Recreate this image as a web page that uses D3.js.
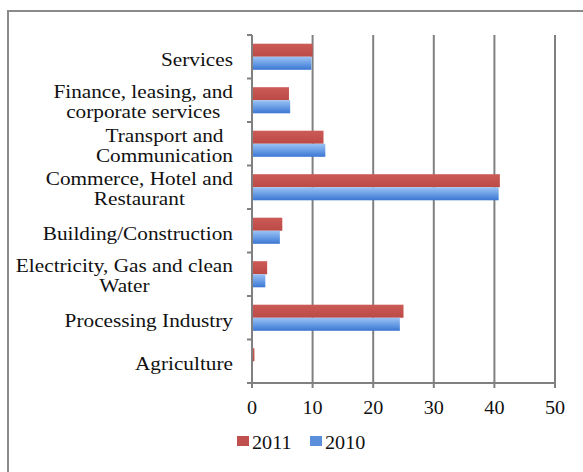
<!DOCTYPE html>
<html>
<head>
<meta charset="utf-8">
<script src="https://cdn.jsdelivr.net/npm/d3@7"></script>
<style>
  body { margin: 0; background: white; }
</style>
</head>
<body>
<svg id="chart" width="583" height="472"></svg>
<script>
// data
var categories = ['Services', 'Finance, leasing, and corporate services', 'Transport and Communication',
  'Commerce, Hotel and Restaurant', 'Building/Construction', 'Electricity, Gas and clean Water',
  'Processing Industry', 'Agriculture'];
var labelLines = [['Services'], ['Finance, leasing, and', 'corporate services'], ['Transport and', 'Communication'],
  ['Commerce, Hotel and', 'Restaurant'], ['Building/Construction'], ['Electricity, Gas and clean', 'Water'],
  ['Processing Industry'], ['Agriculture']];
var series = ['2011', '2010'];
var values2011 = [10.0, 6.1, 11.8, 40.9, 5.0, 2.5, 25.0, 0.4];
var values2010 = [9.8, 6.3, 12.1, 40.7, 4.6, 2.2, 24.4, 0.1];
var xTicks = [0, 10, 20, 30, 40, 50];

var svg = d3.select('#chart');
var plotLeft = 252, plotRight = 555, plotTop = 35, plotBottom = 383;
var gridColor = '#808080';
var font = '"Liberation Serif", "Times New Roman", serif';
var stretch = 'scale(1.12,1)';   // the picture's text is a bit wide

/* gradients */
var defs = svg.append('defs');
var gBlue = defs.append('linearGradient').attr('id', 'blueGrad').attr('x1', 0).attr('x2', 0).attr('y1', 0).attr('y2', 1);
gBlue.append('stop').attr('offset', '0%').attr('stop-color', '#9cc2f3');
gBlue.append('stop').attr('offset', '45%').attr('stop-color', '#6fa2e8');
gBlue.append('stop').attr('offset', '100%').attr('stop-color', '#3b76d2');
var gRed = defs.append('linearGradient').attr('id', 'redGrad').attr('x1', 0).attr('x2', 0).attr('y1', 0).attr('y2', 1);
gRed.append('stop').attr('offset', '0%').attr('stop-color', '#cc5b58');
gRed.append('stop').attr('offset', '100%').attr('stop-color', '#bb4a47');
var fills = { '2011': 'url(#redGrad)', '2010': 'url(#blueGrad)' };
var legendFills = { '2011': '#c0504d', '2010': '#5b8fdc' };

/* outer frame */
svg.append('rect').attr('x', 8).attr('y', 11).attr('width', 600).attr('height', 500)
  .style('fill', 'none').style('stroke', '#8a8a8a').style('stroke-width', 2);

/* scales */
var x = d3.scaleLinear().domain([0, 50]).range([plotLeft, plotRight]);
var y = d3.scaleBand().domain(categories).range([plotTop, plotBottom]).paddingInner(0.4).paddingOuter(0.2);
var ySub = d3.scaleBand().domain(series).range([0, y.bandwidth()]);
var yEdge = d3.scaleLinear().domain([0, categories.length]).range([plotTop, plotBottom]);

/* vertical gridlines */
svg.append('g').selectAll('line').data(xTicks.slice(1)).enter().append('line')
  .attr('x1', d => x(d)).attr('x2', d => x(d)).attr('y1', plotTop).attr('y2', plotBottom)
  .style('stroke', gridColor).style('stroke-width', 2);

/* bars */
var rows = categories.map((c, i) => ({ cat: c, vals: [{ s: '2011', v: values2011[i] }, { s: '2010', v: values2010[i] }] }));
var groups = svg.append('g').selectAll('g').data(rows).enter().append('g')
  .attr('transform', d => 'translate(0,' + y(d.cat) + ')');
groups.selectAll('rect').data(d => d.vals).enter().append('rect')
  .attr('x', x(0)).attr('y', d => ySub(d.s)).attr('width', d => x(d.v) - x(0)).attr('height', ySub.bandwidth())
  .style('fill', d => fills[d.s]);

/* y axis line + category ticks */
svg.append('line').attr('x1', plotLeft).attr('x2', plotLeft).attr('y1', plotTop).attr('y2', plotBottom + 4)
  .style('stroke', gridColor).style('stroke-width', 2);
svg.append('g').selectAll('line').data(d3.range(categories.length + 1)).enter().append('line')
  .attr('x1', plotLeft - 5).attr('x2', plotLeft).attr('y1', d => yEdge(d)).attr('y2', d => yEdge(d))
  .style('stroke', gridColor).style('stroke-width', 2);

/* x axis */
svg.append('line').attr('x1', plotLeft - 5).attr('x2', plotRight + 1).attr('y1', plotBottom).attr('y2', plotBottom)
  .style('stroke', gridColor).style('stroke-width', 2);
svg.append('g').selectAll('line').data(xTicks).enter().append('line')
  .attr('x1', d => x(d)).attr('x2', d => x(d)).attr('y1', plotBottom).attr('y2', plotBottom + 5)
  .style('stroke', gridColor).style('stroke-width', 2);
svg.append('g').selectAll('text').data(xTicks).enter().append('text')
  .attr('transform', d => 'translate(' + x(d) + ',' + (plotBottom + 31) + ') ' + stretch)
  .style('text-anchor', 'middle')
  .style('font-family', font).style('font-size', '18px').style('fill', '#111')
  .text(d => d);

/* category labels: lines centred on each other, block right-aligned */
var labelRight = 233;
var labels = svg.append('g').selectAll('text').data(categories).enter().append('text')
  .style('text-anchor', 'middle').style('font-family', font).style('font-size', '19px').style('fill', '#111');
labels.selectAll('tspan').data((d, i) => labelLines[i]).enter().append('tspan')
  .attr('x', 0).attr('dy', (d, j) => j === 0 ? 0 : 20).text(d => d);
labels.each(function(d, i) {
  var t = d3.select(this);
  var w = 1.12 * d3.max(t.selectAll('tspan').nodes(), n => n.getComputedTextLength());
  var c = y(d) + y.bandwidth() / 2;
  t.attr('transform', 'translate(' + (labelRight - w / 2) + ',' + (labelLines[i].length > 1 ? c - 2 : c + 9) + ') ' + stretch);
});

/* legend */
var legend = svg.append('g').attr('transform', 'translate(237,436)');
var li = legend.selectAll('g').data(series).enter().append('g')
  .attr('transform', (d, i) => 'translate(' + (i * 73) + ',0)');
li.append('rect').attr('width', 12).attr('height', 10).style('fill', d => legendFills[d]);
li.append('text').attr('transform', 'translate(15,13) ' + stretch)
  .style('font-family', font).style('font-size', '18px')
  .style('fill', '#111').text(d => d);
</script>
</body>
</html>
